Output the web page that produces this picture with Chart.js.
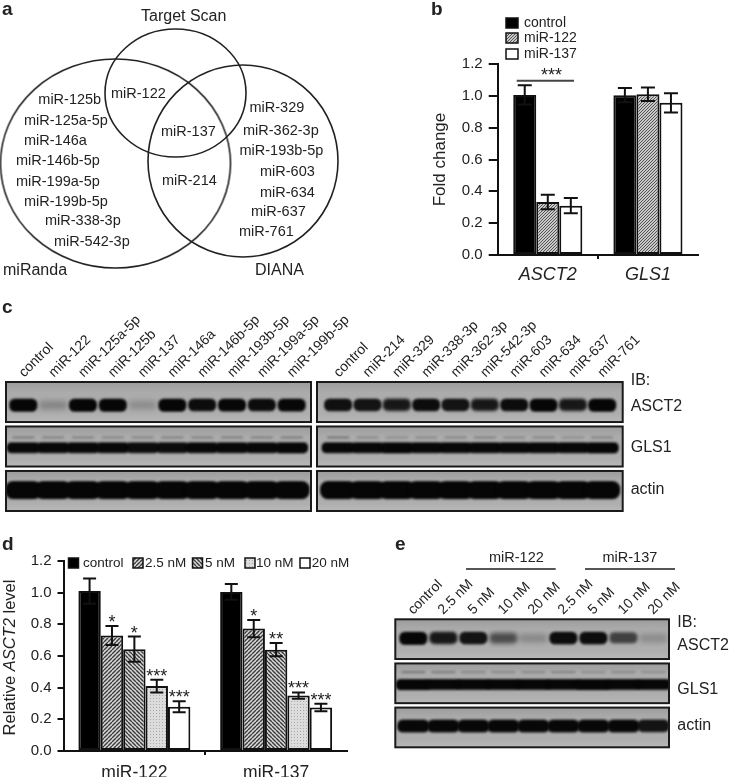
<!DOCTYPE html>
<html>
<head>
<meta charset="utf-8">
<style>
  html, body { margin: 0; padding: 0; background: #fff; }
  #page { position: relative; width: 730px; height: 777px; overflow: hidden; }
  canvas { position: absolute; }
</style>
<script src="https://cdn.jsdelivr.net/npm/chart.js@4/dist/chart.umd.js"></script>
</head>
<body>
<div id="page"></div>
<script>
// panel b
const bCategories = ["ASCT2", "GLS1"];
const bSeries = ["control", "miR-122", "miR-137"];
const bControl = [1.006, 1.004];
const bMir122 = [0.333, 1.01];
const bMir137 = [0.31, 0.956];
const bControlErr = [0.06, 0.045];
const bMir122Err = [0.045, 0.043];
const bMir137Err = [0.048, 0.06];

// panel d
const dCategories = ["miR-122", "miR-137"];
const dSeries = ["control", "2.5 nM", "5 nM", "10 nM", "20 nM"];
const dControl = [1.01, 1.005];
const d25 = [0.73, 0.773];
const d5 = [0.643, 0.64];
const d10 = [0.41, 0.35];
const d20 = [0.28, 0.275];
const dControlErr = [0.08, 0.05];
const d25Err = [0.06, 0.055];
const d5Err = [0.08, 0.042];
const d10Err = [0.04, 0.02];
const d20Err = [0.035, 0.024];
const d25Stars = ["*", "*"];
const d5Stars = ["*", "**"];
const d10Stars = ["***", "***"];
const d20Stars = ["***", "***"];
const yTicks = [0, 0.2, 0.4, 0.6, 0.8, 1.0, 1.2];

// panel a
const vennSets = ["Target Scan", "miRanda", "DIANA"];
const vennNames = ["miR-125b", "miR-125a-5p", "miR-146a", "miR-146b-5p", "miR-199a-5p", "miR-199b-5p", "miR-338-3p", "miR-542-3p",
  "miR-122", "miR-137", "miR-214", "miR-329", "miR-362-3p", "miR-193b-5p", "miR-603", "miR-634", "miR-637", "miR-761"];

// panel c lanes, band strength 0..1
const cLanesLeft = ["control", "miR-122", "miR-125a-5p", "miR-125b", "miR-137", "miR-146a", "miR-146b-5p", "miR-193b-5p", "miR-199a-5p", "miR-199b-5p"];
const cLanesRight = ["control", "miR-214", "miR-329", "miR-338-3p", "miR-362-3p", "miR-542-3p", "miR-603", "miR-634", "miR-637", "miR-761"];
const cLeftAsct2 = [1, 0.22, 1, 1, 0.18, 1, 0.92, 0.95, 0.92, 0.95];
const cLeftGlsFaint = [0.35, 0.3, 0.3, 0.28, 0.28, 0.3, 0.3, 0.32, 0.32, 0.35];
const cLeftGls = [0.95, 0.95, 0.95, 0.95, 0.92, 0.92, 0.95, 0.95, 0.95, 0.98];
const cLeftActin = [1, 1, 1, 1, 1, 1, 1, 1, 1, 1];
const cRightAsct2 = [0.9, 0.88, 0.85, 0.92, 0.88, 0.85, 0.92, 1, 0.85, 1];
const cRightGlsFaint = [0.4, 0.25, 0.22, 0.25, 0.28, 0.3, 0.25, 0.28, 0.22, 0.28];
const cRightGls = [0.95, 0.95, 1, 0.95, 0.95, 0.95, 0.95, 0.95, 0.95, 1];
const cRightActin = [1, 1, 1, 1, 1, 1, 1, 1, 1, 1];

// panel e lanes
const eLanes = ["control", "2.5 nM", "5 nM", "10 nM", "20 nM", "2.5 nM", "5 nM", "10 nM", "20 nM"];
const eAsct2 = [1, 0.85, 0.88, 0.55, 0.2, 0.92, 0.92, 0.62, 0.18];
const eGlsFaint = [0.4, 0.35, 0.28, 0.25, 0.25, 0.3, 0.22, 0.25, 0.22];
const eGls = [1, 0.95, 0.95, 0.95, 0.95, 0.95, 1, 0.95, 0.95];
const eActin = [0.95, 0.95, 0.95, 0.95, 0.95, 0.95, 0.95, 0.95, 0.88];

const INK = "#222";
const FAMILY = "'Liberation Sans', Arial, sans-serif";
const page = document.getElementById("page");

function makeCanvas(left, top, w, h, z) {
  const c = document.createElement("canvas");
  c.width = w;
  c.height = h;
  c.style.cssText = `left:${left}px;top:${top}px;width:${w}px;height:${h}px;z-index:${z || 1}`;
  page.appendChild(c);
  return c;
}

function hatch(bg, fg, dir, size, lw) {
  const c = document.createElement("canvas");
  c.width = c.height = size;
  const g = c.getContext("2d");
  g.fillStyle = bg;
  g.fillRect(0, 0, size, size);
  g.strokeStyle = fg;
  g.lineWidth = lw;
  if (dir < 0) { g.translate(size, 0); g.scale(-1, 1); }
  g.beginPath();
  for (const k of [-size, 0, size]) {
    g.moveTo(k, size);
    g.lineTo(k + size, 0);
  }
  g.stroke();
  return g.createPattern(c, "repeat");
}

function dotted(bg, fg) {
  const c = document.createElement("canvas");
  c.width = c.height = 3;
  const g = c.getContext("2d");
  g.fillStyle = bg;
  g.fillRect(0, 0, 3, 3);
  g.fillStyle = fg;
  g.fillRect(0, 0, 1, 1);
  return g.createPattern(c, "repeat");
}

// error bars and significance stars, read from dataset.errors / dataset.stars
const errorBars = {
  id: "errorBars",
  afterDatasetsDraw(chart, args, opts) {
    const ctx = chart.ctx;
    const y = chart.scales.y;
    ctx.save();
    chart.data.datasets.forEach((ds, i) => {
      chart.getDatasetMeta(i).data.forEach((bar, j) => {
        const hi = y.getPixelForValue(ds.data[j] + ds.errors[j]);
        const lo = y.getPixelForValue(ds.data[j] - ds.errors[j]);
        ctx.strokeStyle = "#111";
        ctx.lineWidth = 2;
        ctx.beginPath();
        ctx.moveTo(bar.x, hi);
        ctx.lineTo(bar.x, lo);
        for (const p of [hi, lo]) {
          ctx.moveTo(bar.x - opts.cap, p);
          ctx.lineTo(bar.x + opts.cap, p);
        }
        ctx.stroke();
        if (ds.stars && ds.stars[j]) {
          ctx.fillStyle = INK;
          ctx.font = "18px " + FAMILY;
          ctx.textAlign = "center";
          ctx.textBaseline = "alphabetic";
          ctx.fillText(ds.stars[j], bar.x, hi + 2);
        }
      });
    });
    ctx.restore();
  },
};

// hand placed legend, swatches take their fill from the datasets
const keyBox = {
  id: "keyBox",
  afterDraw(chart, args, opts) {
    const ctx = chart.ctx;
    ctx.save();
    chart.data.datasets.forEach((ds, i) => {
      const [sx, sy, tx, ty] = opts.spots[i];
      ctx.fillStyle = ds.backgroundColor;
      ctx.strokeStyle = "#111";
      ctx.lineWidth = 1.5;
      ctx.fillRect(sx, sy, opts.w, opts.h);
      ctx.strokeRect(sx, sy, opts.w, opts.h);
      ctx.fillStyle = INK;
      ctx.font = opts.font;
      ctx.textAlign = "left";
      ctx.textBaseline = "middle";
      ctx.fillText(ds.label, tx, ty);
    });
    ctx.restore();
  },
};

function barChart(canvas, area, labels, datasets, cfg, extra) {
  return new Chart(canvas, {
    type: "bar",
    data: { labels, datasets },
    plugins: [errorBars, keyBox].concat(extra || []),
    options: {
      responsive: false,
      animation: false,
      layout: { autoPadding: false, padding: { left: 0, top: area.top, right: canvas.width - area.right, bottom: 0 } },
      datasets: { bar: { categoryPercentage: cfg.groupShare, barPercentage: 1, borderColor: "#111", borderWidth: 2, borderSkipped: false } },
      plugins: { legend: { display: false }, tooltip: { enabled: false }, errorBars: { cap: cfg.cap }, keyBox: cfg.key },
      scales: {
        x: {
          afterFit(s) { s.height = canvas.height - area.bottom; },
          grid: {
            drawOnChartArea: false,
            tickLength: 4,
            lineWidth: 2,
            tickColor: (c) => (c.index === 1 ? "#111" : "rgba(0,0,0,0)"),
          },
          border: { color: "#111", width: 2 },
          ticks: { color: INK, font: { size: cfg.catSize, style: cfg.catStyle, family: FAMILY }, padding: cfg.catPad, maxRotation: 0 },
        },
        y: {
          min: 0,
          max: 1.2,
          afterFit(s) { s.width = area.left; },
          afterBuildTicks(s) { s.ticks = yTicks.map((value) => ({ value })); },
          grid: { drawOnChartArea: false, tickLength: cfg.tick, lineWidth: 2, tickColor: "#111" },
          border: { color: "#111", width: 2 },
          ticks: { color: INK, font: { size: 15, family: FAMILY }, padding: 6, callback: (v) => v.toFixed(1) },
          title: cfg.yTitle,
        },
      },
    },
  });
}

// panel b
const bPatterns = [ "#000", hatch("#c8c8c8", "#555", 1, 3, 1), "#fff" ];
const sigBar = {
  id: "sigBar",
  afterDatasetsDraw(chart) {
    const ctx = chart.ctx;
    const y = chart.scales.y.getPixelForValue(1.095);
    ctx.save();
    ctx.strokeStyle = "#444";
    ctx.lineWidth = 2;
    ctx.beginPath();
    ctx.moveTo(96.7, y);
    ctx.lineTo(154, y);
    ctx.stroke();
    ctx.fillStyle = INK;
    ctx.font = "18px " + FAMILY;
    ctx.textAlign = "center";
    ctx.fillText("***", 131.5, y + 0.5);
    ctx.restore();
  },
};
barChart(makeCanvas(420, 0, 310, 290), { left: 77.7, top: 64, right: 278, bottom: 255 }, bCategories, [
  { label: bSeries[0], data: bControl, errors: bControlErr, backgroundColor: bPatterns[0] },
  { label: bSeries[1], data: bMir122, errors: bMir122Err, backgroundColor: bPatterns[1] },
  { label: bSeries[2], data: bMir137, errors: bMir137Err, backgroundColor: bPatterns[2] },
], {
  groupShare: 0.69,
  cap: 7,
  catSize: 18,
  catStyle: "italic",
  catPad: 5,
  tick: 9,
  yTitle: { display: true, text: "Fold change", color: INK, font: { size: 17, family: FAMILY }, padding: { top: 10, bottom: 0 } },
  key: {
    w: 12, h: 10, font: "14px " + FAMILY,
    spots: [[86, 18, 104, 23], [86, 33, 104, 38.5], [86, 49, 104, 54]],
  },
}, [sigBar]);

// panel d
const dPatterns = [ "#000", hatch("#d8d8d8", "#3a3a3a", 1, 4, 1.4), hatch("#d8d8d8", "#3a3a3a", -1, 4, 1.4), dotted("#dcdcdc", "#aaa"), "#fff" ];
const dYTitle = {
  id: "dYTitle",
  afterDraw(chart) {
    const ctx = chart.ctx;
    const parts = [["Relative ", ""], ["ASCT2", "italic "], [" level", ""]];
    ctx.save();
    ctx.translate(10, 127.5);
    ctx.rotate(-Math.PI / 2);
    ctx.fillStyle = INK;
    ctx.textBaseline = "middle";
    ctx.textAlign = "left";
    const fontOf = (p) => p[1] + "16.5px " + FAMILY;
    let total = 0;
    for (const p of parts) { ctx.font = fontOf(p); total += ctx.measureText(p[0]).width; }
    let x = -total / 2;
    for (const p of parts) {
      ctx.font = fontOf(p);
      ctx.fillText(p[0], x, 0);
      x += ctx.measureText(p[0]).width;
    }
    ctx.restore();
  },
};
barChart(makeCanvas(0, 530, 370, 247), { left: 63.5, top: 31, right: 347, bottom: 221 }, dCategories, [
  { label: dSeries[0], data: dControl, errors: dControlErr, backgroundColor: dPatterns[0] },
  { label: dSeries[1], data: d25, errors: d25Err, stars: d25Stars, backgroundColor: dPatterns[1] },
  { label: dSeries[2], data: d5, errors: d5Err, stars: d5Stars, backgroundColor: dPatterns[2] },
  { label: dSeries[3], data: d10, errors: d10Err, stars: d10Stars, backgroundColor: dPatterns[3] },
  { label: dSeries[4], data: d20, errors: d20Err, stars: d20Stars, backgroundColor: dPatterns[4] },
], {
  groupShare: 0.79,
  cap: 6.5,
  catSize: 17.5,
  catStyle: "normal",
  catPad: 8,
  tick: 6,
  yTitle: { display: false },
  key: {
    w: 10, h: 10, font: "13.5px " + FAMILY,
    spots: [[68.5, 28, 83, 33], [133, 28, 145, 33], [192.5, 28, 205, 33], [245, 28, 256, 33], [300, 28, 311.7, 33]],
  },
}, [dYTitle]);

// blots
function bandImage(w, h, s, thin) {
  const pad = 10;
  const c = document.createElement("canvas");
  c.width = w + pad * 2;
  c.height = Math.ceil(h) + pad * 2;
  const g = c.getContext("2d");
  g.filter = thin ? "blur(0.8px)" : `blur(${1 + (1 - s) * 2.2}px)`;
  g.globalAlpha = thin ? Math.min(1, s * 1.5) : Math.min(1, s * 1.05);
  g.fillStyle = thin ? "#333" : "#060606";
  g.beginPath();
  g.roundRect(pad, pad, w, h, h / 2.4);
  g.fill();
  return c;
}

const stripFrames = {
  id: "stripFrames",
  beforeDatasetsDraw(chart) {
    const { ctx, chartArea: a, scales: { y } } = chart;
    ctx.save();
    for (const row of [0, 1, 2]) {
      const t = y.getPixelForValue(row - 0.45);
      const b = y.getPixelForValue(row + 0.45);
      const grad = ctx.createLinearGradient(0, t, 0, b);
      grad.addColorStop(0, "#9c9c9c");
      grad.addColorStop(0.25, "#ababab");
      grad.addColorStop(0.8, "#aeaeae");
      grad.addColorStop(1, "#b8b8b8");
      ctx.fillStyle = grad;
      ctx.fillRect(a.left, t, a.right - a.left, b - t);
    }
    ctx.restore();
  },
  afterDatasetsDraw(chart) {
    const { ctx, chartArea: a, scales: { y } } = chart;
    ctx.save();
    ctx.strokeStyle = "#1a1a1a";
    ctx.lineWidth = 2;
    for (const row of [0, 1, 2]) {
      const t = y.getPixelForValue(row - 0.45);
      const b = y.getPixelForValue(row + 0.45);
      ctx.strokeRect(a.left, t, a.right - a.left, b - t);
    }
    ctx.restore();
  },
};

function blot(canvas, box, lanes, xRange, rows, labelOffset) {
  const datasets = rows.map((r) => ({
    data: r.values.map((_, i) => ({ x: i, y: r.row })),
    pointStyle: r.values.map((s) => bandImage(r.width, r.thin ? r.thick : r.thick * (0.6 + 0.4 * s), s, r.thin)),
    pointRadius: 2,
    showLine: false,
  }));
  return new Chart(canvas, {
    type: "scatter",
    data: { datasets },
    plugins: [stripFrames],
    options: {
      responsive: false,
      animation: false,
      events: [],
      layout: { autoPadding: false, padding: { left: box.left, top: 0, right: canvas.width - box.right, bottom: canvas.height - box.bottom } },
      plugins: { legend: { display: false }, tooltip: { enabled: false } },
      scales: {
        x: {
          position: "top",
          min: xRange[0],
          max: xRange[1],
          afterFit(s) { s.height = box.top; },
          afterBuildTicks(s) { s.ticks = lanes.map((_, value) => ({ value })); },
          grid: { display: false },
          border: { display: false },
          ticks: {
            autoSkip: false,
            minRotation: 45,
            maxRotation: 45,
            padding: -7,
            labelOffset,
            color: INK,
            font: { size: 14, family: FAMILY },
            callback: (v) => lanes[v],
          },
        },
        y: { display: false, reverse: true, min: -0.45, max: 2.45 },
      },
    },
  });
}

const cRows = (asct2, faint, gls, actin) => [
  { row: 0.07, width: 28, thick: 13, values: asct2 },
  { row: 0.8, width: 22, thick: 1.5, thin: true, values: faint },
  { row: 1.03, width: 33, thick: 11, values: gls },
  { row: 1.98, width: 36, thick: 18, values: actin },
];
blot(makeCanvas(0, 300, 365, 215), { left: 6, top: 82, right: 311, bottom: 211 }, cLanesLeft, [-0.58, 9.65],
  cRows(cLeftAsct2, cLeftGlsFaint, cLeftGls, cLeftActin), 10);
blot(makeCanvas(312, 300, 330, 215), { left: 5, top: 82, right: 310.7, bottom: 211 }, cLanesRight, [-0.72, 9.7],
  cRows(cRightAsct2, cRightGlsFaint, cRightGls, cRightActin), 10);
blot(makeCanvas(390, 575, 300, 175), { left: 5.3, top: 44.3, right: 279, bottom: 172.3 }, eLanes, [-0.6, 8.52], [
  { row: -0.02, width: 28, thick: 13, values: eAsct2 },
  { row: 0.75, width: 24, thick: 1.5, thin: true, values: eGlsFaint },
  { row: 1.03, width: 35, thick: 11, values: eGls },
  { row: 1.97, width: 32, thick: 13, values: eActin },
], 9);

// panel a and the loose text of the page, on a full page chart with pixel scales
const vennCx = [175.5, 115.5, 243];
const vennCy = [93, 163.5, 161];
const vennRx = [70.5, 115, 95];
const vennRy = [64, 104.5, 96];
const vennNameX = [38.3, 24, 24, 16, 16, 24, 45, 54, 111, 161, 162, 249.5, 243, 239.5, 260, 260, 251, 239];
const vennNameY = [100, 121, 141, 161, 182, 202, 221, 242, 94, 131.5, 181, 108, 131, 151, 172, 193, 212, 232];

function ringImage(rx, ry) {
  const c = document.createElement("canvas");
  c.width = Math.ceil(rx * 2 + 6);
  c.height = Math.ceil(ry * 2 + 6);
  const g = c.getContext("2d");
  g.strokeStyle = "#222";
  g.lineWidth = 1.6;
  g.beginPath();
  g.ellipse(c.width / 2, c.height / 2, rx, ry, 0, 0, Math.PI * 2);
  g.stroke();
  return c;
}

const letterFont = "bold 19px " + FAMILY;
const nameFont = "14.5px " + FAMILY;
const bigFont = "16px " + FAMILY;
const looseText = [
  ["a", 2, 10, letterFont], ["b", 431, 10, letterFont], ["c", 2, 308, letterFont], ["d", 2, 545, letterFont], ["e", 395, 545, letterFont],
  [vennSets[0], 141, 17, bigFont], [vennSets[1], 3, 271, bigFont], [vennSets[2], 255, 271, bigFont],
  ["IB:", 630.7, 381, bigFont], ["ASCT2", 630.7, 406.7, bigFont], ["GLS1", 630.7, 448, bigFont], ["actin", 630.7, 490, bigFont],
  ["IB:", 677.3, 622.7, bigFont], ["ASCT2", 677.3, 646, bigFont], ["GLS1", 677.3, 690, bigFont], ["actin", 677.3, 725.7, bigFont],
  ["miR-122", 489, 558, nameFont], ["miR-137", 602.5, 558, nameFont],
];
const looseLines = [[466, 555.7, 569], [585, 675, 569]];

const pageText = {
  id: "pageText",
  afterDatasetsDraw(chart) {
    const { ctx, scales: { x, y } } = chart;
    ctx.save();
    ctx.fillStyle = INK;
    ctx.textAlign = "left";
    ctx.textBaseline = "middle";
    ctx.font = nameFont;
    vennNames.forEach((n, i) => ctx.fillText(n, x.getPixelForValue(vennNameX[i]), y.getPixelForValue(vennNameY[i])));
    for (const [t, tx, ty, f] of looseText) {
      ctx.font = f;
      ctx.fillText(t, x.getPixelForValue(tx), y.getPixelForValue(ty));
    }
    ctx.strokeStyle = "#555";
    ctx.lineWidth = 2;
    for (const [x0, x1, ly] of looseLines) {
      ctx.beginPath();
      ctx.moveTo(x.getPixelForValue(x0), y.getPixelForValue(ly));
      ctx.lineTo(x.getPixelForValue(x1), y.getPixelForValue(ly));
      ctx.stroke();
    }
    ctx.restore();
  },
};

new Chart(makeCanvas(0, 0, 730, 777, 0), {
  type: "scatter",
  data: {
    datasets: [{
      data: vennCx.map((cx, i) => ({ x: cx, y: vennCy[i] })),
      pointStyle: vennCx.map((_, i) => ringImage(vennRx[i], vennRy[i])),
      pointRadius: 2,
    }],
  },
  plugins: [pageText],
  options: {
    responsive: false,
    animation: false,
    events: [],
    layout: { autoPadding: false },
    plugins: { legend: { display: false }, tooltip: { enabled: false } },
    scales: {
      x: { display: false, min: 0, max: 730 },
      y: { display: false, min: 0, max: 777, reverse: true },
    },
  },
});
</script>
</body>
</html>
